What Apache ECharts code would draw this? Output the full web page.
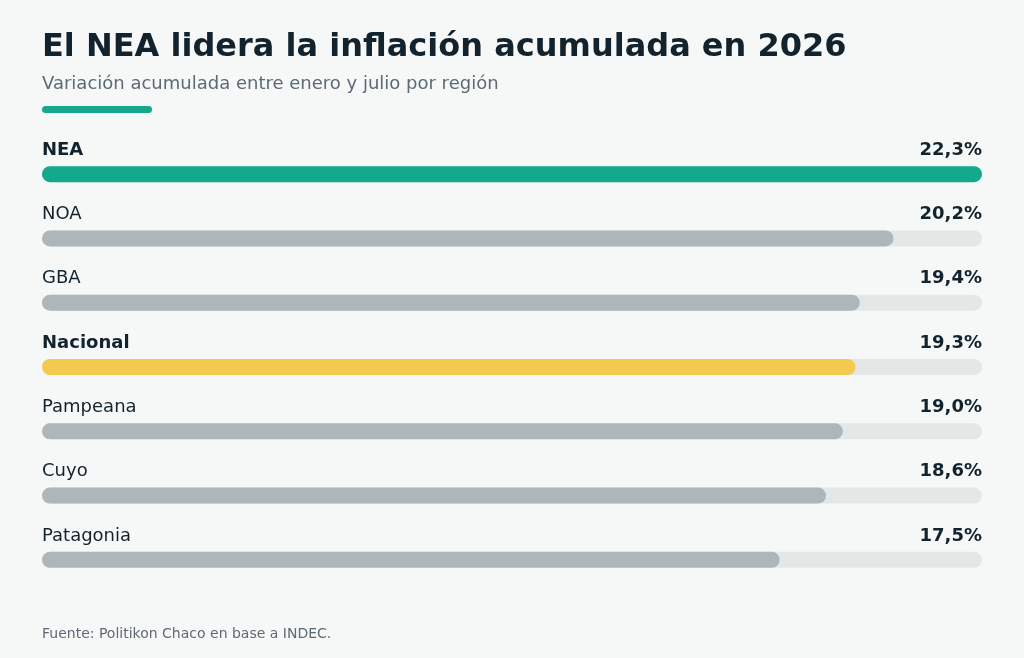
<!DOCTYPE html>
<html>
<head>
<meta charset="utf-8">
<script src="https://cdn.jsdelivr.net/npm/echarts@6/dist/echarts.min.js"></script>
<style>
  html, body { margin: 0; padding: 0; background: #f6f8f8; }
  #chart { width: 1024px; height: 658px; }
</style>
</head>
<body>
<div id="chart"></div>
<script>
  // datos
  var regiones = ['NEA', 'NOA', 'GBA', 'Nacional', 'Pampeana', 'Cuyo', 'Patagonia'];
  var valores = [22.3, 20.2, 19.4, 19.3, 19.0, 18.6, 17.5];
  var destacadas = ['NEA', 'Nacional'];
  var colores = { NEA: '#14a98b', Nacional: '#f5c94e' };
  var colorBase = '#adb6b8';
  var maximo = 22.3;

  var fmt = function (v) { return v.toFixed(1).replace('.', ',') + '%'; };
  var fuente = "'DejaVu Sans', sans-serif";

  var chart = echarts.init(document.getElementById('chart'));

  var barras = regiones.map(function (r, i) {
    return {
      value: valores[i],
      itemStyle: { color: colores[r] || colorBase },
      label: { fontWeight: destacadas.indexOf(r) >= 0 ? 'bold' : 'normal' }
    };
  });
  // pista de fondo, lleva la etiqueta del porcentaje
  var pista = regiones.map(function (r, i) {
    return { value: maximo, pct: valores[i] };
  });

  var option = {
    backgroundColor: '#f6f8f8',
    animation: false,
    title: [
      {
        text: 'El NEA lidera la inflación acumulada en 2026',
        left: 42, top: 32, padding: 0,
        textStyle: { fontFamily: fuente, fontSize: 32, fontWeight: 'bold', color: '#13232e' }
      },
      {
        text: 'Variación acumulada entre enero y julio por región',
        left: 42, top: 75, padding: 0,
        textStyle: { fontFamily: fuente, fontSize: 18, fontWeight: 'normal', color: '#5d6a74' }
      },
      {
        text: 'Fuente: Politikon Chaco en base a INDEC.',
        left: 42, top: 627, padding: 0,
        textStyle: { fontFamily: fuente, fontSize: 14, fontWeight: 'normal', color: '#5d6a74' }
      }
    ],
    graphic: [
      { type: 'rect', left: 42, top: 106, shape: { width: 110, height: 7, r: 3.5 }, style: { fill: '#14a98b' } }
    ],
    grid: { left: 42, right: 42, top: 142, height: 450 },
    xAxis: { type: 'value', min: 0, max: maximo, show: false },
    yAxis: {
      type: 'category', data: regiones, inverse: true, show: false
    },
    series: [
      {
        type: 'bar', data: pista, barWidth: 16, silent: true,
        itemStyle: { color: '#e4e7e7', borderRadius: 8 },
        label: {
          show: true, position: ['100%', 0], align: 'right', verticalAlign: 'middle', offset: [0, -16],
          fontFamily: fuente, fontSize: 18, fontWeight: 'bold', color: '#13232e',
          formatter: function (p) { return fmt(p.data.pct); }
        },
        z: 1
      },
      {
        type: 'bar', data: barras, barWidth: 16, barGap: '-100%',
        itemStyle: { borderRadius: 8 },
        label: {
          show: true, position: [0, 0], align: 'left', verticalAlign: 'middle', offset: [0, -16],
          fontFamily: fuente, fontSize: 18, color: '#13232e',
          formatter: '{b}'
        },
        z: 2
      }
    ]
  };
  chart.setOption(option);
</script>
</body>
</html>
